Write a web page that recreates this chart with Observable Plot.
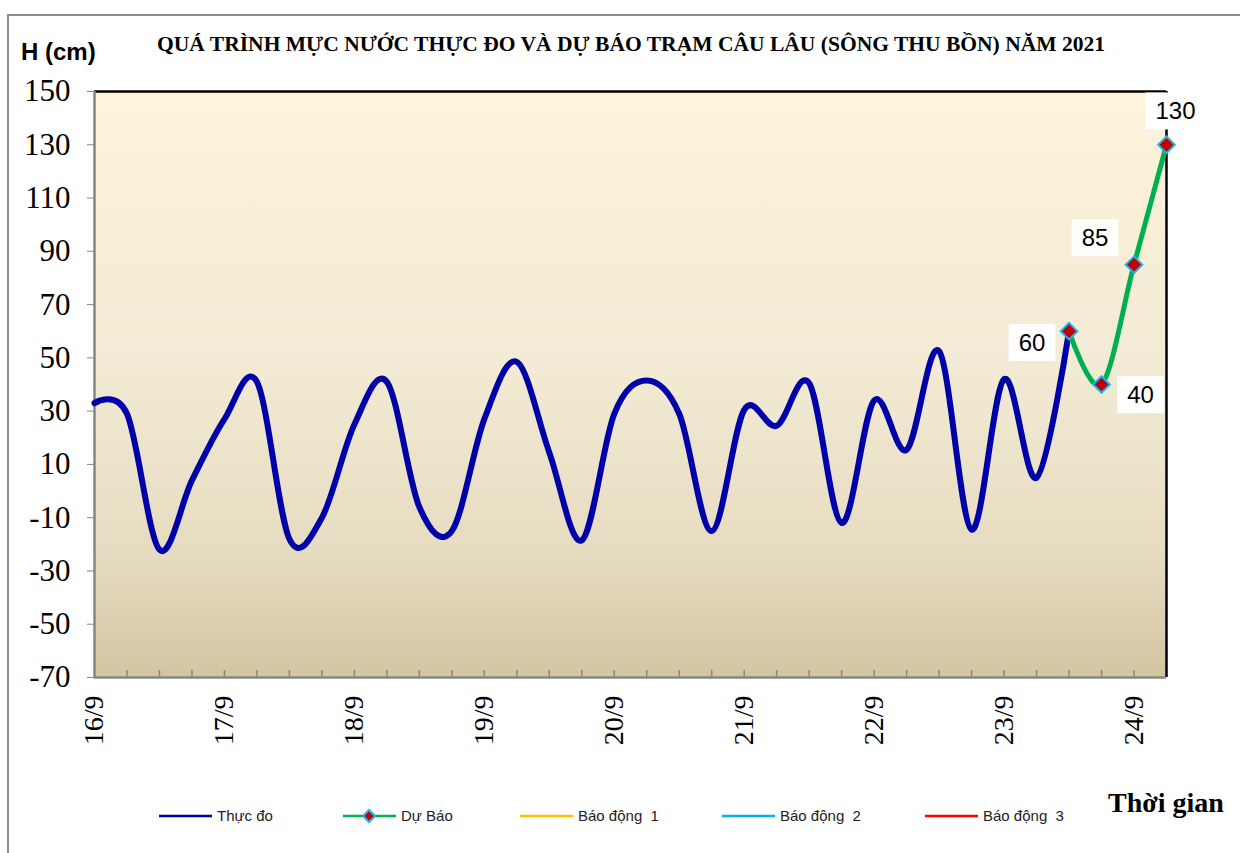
<!DOCTYPE html>
<html><head><meta charset="utf-8">
<script src="https://cdn.jsdelivr.net/npm/d3@7"></script>
<script src="https://cdn.jsdelivr.net/npm/@observablehq/plot@0.6"></script>
<style>
html,body{margin:0;padding:0;overflow:hidden;background:#fff;width:1240px;height:853px;}
#wrap{position:relative;width:1240px;height:853px;overflow:hidden;}
#chart{position:absolute;left:0;top:0;}
.abs{position:absolute;white-space:nowrap;}
#border{position:absolute;left:7px;top:14px;width:1260px;height:900px;border-top:2px solid #8f8f8f;border-left:2px solid #8f8f8f;}
#title{left:157px;top:34px;font:bold 21px/21px "Liberation Serif","Times New Roman",serif;transform-origin:0 0;color:#000;}
#ylab{left:21px;top:40px;font:bold 24px/24px "Liberation Sans",Arial,sans-serif;color:#000;}
#xlab{left:1108px;top:789px;font:bold 28px/28px "Liberation Serif","Times New Roman",serif;color:#000;}
.leg{position:absolute;top:806px;height:20px;font:15px/20px "Liberation Sans",Arial,sans-serif;color:#222;display:flex;align-items:center;white-space:pre;}
.leg svg{margin-right:5px;}
svg text.serif-label{font-family:"Liberation Serif","Times New Roman",serif !important;}
svg text.sans-label{font-family:"Liberation Sans",Arial,sans-serif !important;}
</style></head>
<body>
<div id="wrap">
  <div id="border"></div>
  <div id="chart"></div>
  <div id="title" class="abs">QUÁ TRÌNH MỰC NƯỚC THỰC ĐO VÀ DỰ BÁO TRẠM CÂU LÂU (SÔNG THU BỒN) NĂM  2021</div>
  <div id="ylab" class="abs">H (cm)</div>
  <div id="xlab" class="abs">Thời gian</div>
  <div id="legend"></div>
</div>
<script>
// ---- data ----
const dayLabels = ["16/9","17/9","18/9","19/9","20/9","21/9","22/9","23/9","24/9"];
// observed water level, every 6 hours from 16/9 00h
const observed = [33,29,-22,4,27,41,-18,-10,25,41,-6,-15,27,48.5,14.5,-18.5,29,41.5,29,-15,30.5,24.5,40.5,-12,34,15.5,52.5,-14.5,42,5,60];
// forecast, every 6 hours from 23/9 12h
const forecast = [60,40,85,130];
const forecastStartIndex = 30;
const yTicks = [-70,-50,-30,-10,10,30,50,70,90,110,130,150];
const legendNames = ["Thực đo","Dự Báo","Báo động  1","Báo động  2","Báo động  3"];
const legendColors = ["#0000A8","#00B050","#FFC000","#00B0F0","#FF0000"];

const t0 = Date.UTC(2021, 8, 16, 0);
const H6 = 6 * 3600 * 1000;
const obsData = observed.map((v, i) => ({t: new Date(t0 + i * H6), v}));
const fcData = forecast.map((v, i) => ({t: new Date(t0 + (forecastStartIndex + i) * H6), v}));
const tEnd = new Date(t0 + (forecastStartIndex + forecast.length - 1) * H6);
const dayTicks = dayLabels.map((_, i) => new Date(t0 + i * 4 * H6));
const sixTicks = d3.utcHour.every(6).range(new Date(t0 + H6), tEnd);

function gradientDefs() {
  const ns = "http://www.w3.org/2000/svg";
  const g = document.createElementNS(ns, "g");
  g.innerHTML = `<defs><linearGradient id="bgGrad" x1="0" y1="0" x2="0" y2="1">
    <stop offset="0" stop-color="#FEF3DC"/>
    <stop offset="0.45" stop-color="#F3EBD5"/>
    <stop offset="0.8" stop-color="#E5DBC0"/>
    <stop offset="1" stop-color="#D3C5A1"/>
  </linearGradient></defs>`;
  return g;
}

const serif = "Liberation Serif";
const sans = "Liberation Sans";

const W = 1240, Hgt = 853, mT = 91, mB = 176;
const innerH = Hgt - mT - mB;
const labelOffsets = [[-37, 12], [39, 11], [-39, -26], [9, -33]];

const plot = Plot.plot({
  width: W,
  height: Hgt,
  marginLeft: 94,
  marginRight: 74,
  marginTop: mT,
  marginBottom: mB,
  style: {background: "transparent", overflow: "visible"},
  x: {type: "utc", domain: [new Date(t0), tEnd]},
  y: {domain: [-70, 150]},
  marks: [
    gradientDefs,
    Plot.frame({fill: "url(#bgGrad)", stroke: null}),
    Plot.tickX(sixTicks, {x: d => d, stroke: "#868686", strokeWidth: 1.5, insetTop: innerH - 7}),
    Plot.ruleY([150], {stroke: "#000", strokeWidth: 2.5}),
    Plot.ruleX([tEnd], {stroke: "#000", strokeWidth: 2.5}),
    Plot.ruleX([new Date(t0)], {stroke: "#868686", strokeWidth: 2.5}),
    Plot.ruleY([-70], {stroke: "#868686", strokeWidth: 2.5}),
    Plot.axisY({ticks: yTicks, tickFormat: d => String(d), tickSize: 7, tickPadding: 17,
      fontSize: 31, fontFamily: serif, stroke: "#868686", fill: "#000", label: null}),
    Plot.axisX({ticks: dayTicks, tickSize: 0, tickPadding: 18, tickRotate: -90,
      tickFormat: d => dayLabels[dayTicks.findIndex(t => +t === +d)],
      fontSize: 28, fontFamily: serif, fill: "#000", label: null}),
    Plot.line(obsData, {x: "t", y: "v", stroke: "#0000A8", strokeWidth: 6, curve: "cardinal"}),
    Plot.line(fcData, {x: "t", y: "v", stroke: "#00B050", strokeWidth: 5, curve: "cardinal"}),
    Plot.dot(fcData, {x: "t", y: "v", symbol: "diamond2", r: 7.5, fill: "#C00000", stroke: "#1EB4F0", strokeWidth: 2}),
    ...fcData.map((d, i) => Plot.text([d], {x: "t", y: "v", text: d => String(d.v),
      dx: labelOffsets[i][0], dy: labelOffsets[i][1], fontSize: 24, fontFamily: sans, fill: "#000"}))
  ]
});
document.getElementById("chart").appendChild(plot);

// fonts: serif for axis tick labels, sans for value labels
plot.querySelectorAll("text").forEach(t => {
  const inValueLabel = t.closest('g[aria-label="text"]');
  t.classList.add(inValueLabel ? "sans-label" : "serif-label");
  t.setAttribute("font-family", inValueLabel ? sans : serif);
});

// white boxes behind value labels
plot.querySelectorAll('g[aria-label="text"] text').forEach(t => {
  const b = t.getBBox();
  const r = document.createElementNS("http://www.w3.org/2000/svg", "rect");
  const px = 10, py = 5;
  r.setAttribute("x", b.x - px);
  r.setAttribute("y", b.y - py);
  r.setAttribute("width", b.width + 2 * px);
  r.setAttribute("height", b.height + 2 * py);
  r.setAttribute("fill", "#fff");
  if (t.getAttribute("transform")) r.setAttribute("transform", t.getAttribute("transform"));
  t.parentNode.insertBefore(r, t);
});

// title width fit
const title = document.getElementById("title");
const w = title.getBoundingClientRect().width;
title.style.transform = `scaleX(${948 / w})`;

// legend
const legendLeft = [159, 343, 520, 722, 925];
const leg = document.getElementById("legend");
legendNames.forEach((name, i) => {
  const div = document.createElement("div");
  div.className = "leg";
  div.style.left = legendLeft[i] + "px";
  const marker = i === 1
    ? `<polygon points="26,4 32,10 26,16 20,10" fill="#C00000" stroke="#1EB4F0" stroke-width="2"/>`
    : "";
  div.innerHTML = `<svg width="53" height="20"><line x1="0" x2="53" y1="10" y2="10" stroke="${legendColors[i]}" stroke-width="2.5"/>${marker}</svg><span>${name}</span>`;
  leg.appendChild(div);
});
</script>
</body></html>
